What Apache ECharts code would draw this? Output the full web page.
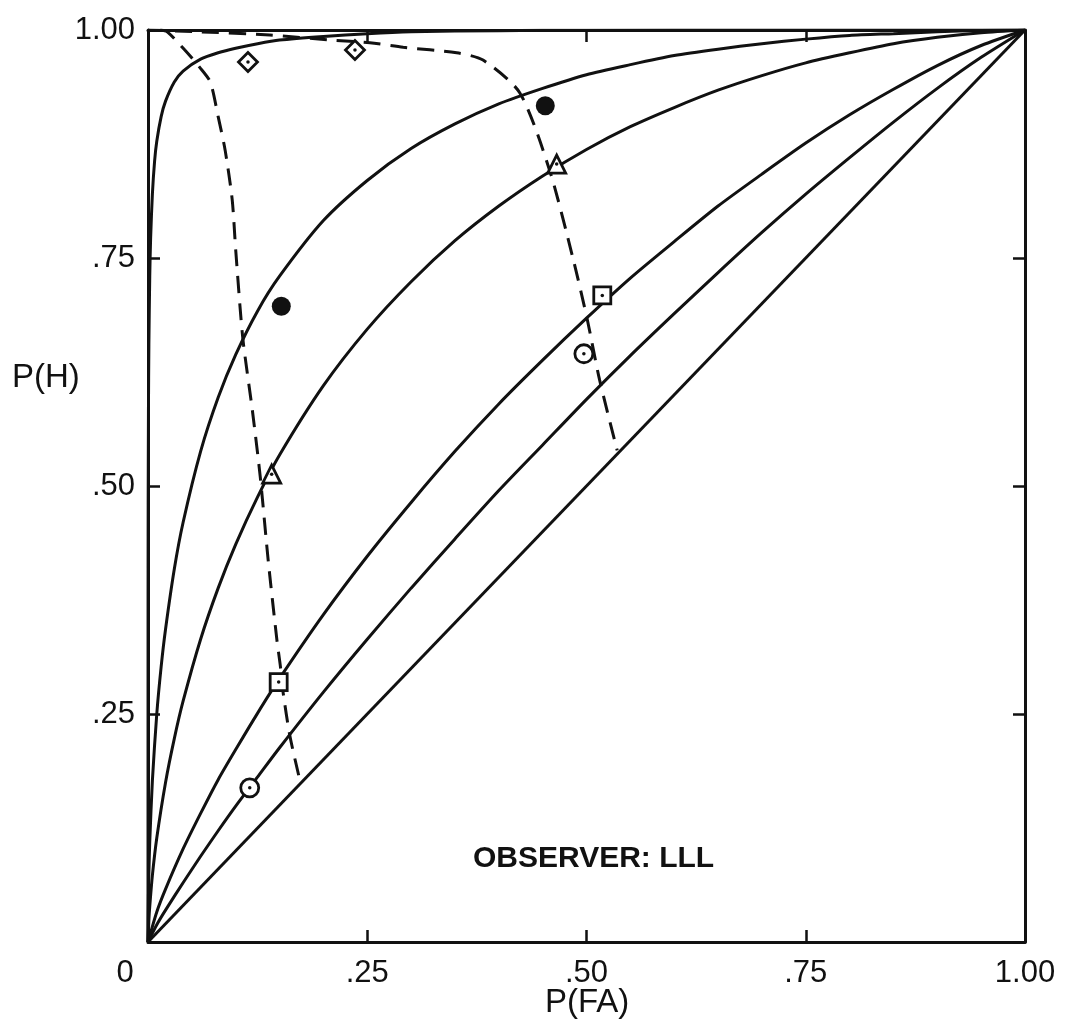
<!DOCTYPE html>
<html>
<head>
<meta charset="utf-8">
<script src="https://cdn.jsdelivr.net/npm/echarts@6/dist/echarts.min.js"></script>
<style>
  html, body { margin: 0; padding: 0; background: #fff; }
  #chart { width: 1066px; height: 1027px; }
</style>
</head>
<body>
<div id="chart"></div>
<script>
// Tick positions and their printed labels
const tickValues = [0, 0.25, 0.5, 0.75, 1];
const xTickLabels = ['0', '.25', '.50', '.75', '1.00'];
const yTickLabels = ['', '.25', '.50', '.75', '1.00'];

// Solid ROC curves, [P(FA), P(H)]
const chanceLine = [[0, 0], [1, 1]];
const rocA = [[0, 0], [0.01, 0.019], [0.02, 0.035], [0.04, 0.065], [0.06, 0.094], [0.08, 0.122],
  [0.10, 0.149], [0.125, 0.181], [0.15, 0.213], [0.20, 0.274], [0.25, 0.332], [0.30, 0.388],
  [0.35, 0.442], [0.40, 0.495], [0.45, 0.545], [0.50, 0.595], [0.55, 0.643], [0.60, 0.689],
  [0.65, 0.734], [0.70, 0.778], [0.75, 0.820], [0.80, 0.860], [0.85, 0.899], [0.90, 0.936],
  [0.95, 0.970], [1, 1]];
const rocB = [[0, 0], [0.01, 0.033], [0.02, 0.058], [0.04, 0.102], [0.06, 0.141], [0.08, 0.178],
  [0.10, 0.211], [0.125, 0.251], [0.15, 0.289], [0.20, 0.359], [0.25, 0.423], [0.30, 0.482],
  [0.35, 0.538], [0.40, 0.590], [0.45, 0.638], [0.50, 0.684], [0.55, 0.728], [0.60, 0.768],
  [0.65, 0.807], [0.70, 0.842], [0.75, 0.876], [0.80, 0.907], [0.85, 0.935], [0.90, 0.961],
  [0.95, 0.983], [1, 1]];
const rocC = [[0, 0], [0.001, 0.024], [0.002, 0.039], [0.005, 0.073], [0.01, 0.114], [0.02, 0.175],
  [0.03, 0.223], [0.04, 0.264], [0.06, 0.332], [0.08, 0.388], [0.10, 0.436], [0.125, 0.488],
  [0.15, 0.534], [0.20, 0.610], [0.25, 0.672], [0.30, 0.724], [0.35, 0.769], [0.40, 0.807],
  [0.45, 0.840], [0.50, 0.869], [0.55, 0.894], [0.60, 0.915], [0.65, 0.934], [0.70, 0.950],
  [0.75, 0.964], [0.80, 0.975], [0.85, 0.985], [0.90, 0.992], [0.95, 0.997], [1, 1]];
const rocD = [[0, 0], [0.0005, 0.051], [0.001, 0.075], [0.002, 0.110], [0.005, 0.177], [0.01, 0.250],
  [0.015, 0.302], [0.02, 0.343], [0.03, 0.409], [0.04, 0.460], [0.06, 0.538], [0.08, 0.597],
  [0.10, 0.644], [0.125, 0.692], [0.15, 0.730], [0.20, 0.791], [0.25, 0.835], [0.30, 0.870],
  [0.35, 0.897], [0.40, 0.919], [0.45, 0.936], [0.50, 0.951], [0.55, 0.962], [0.60, 0.972],
  [0.65, 0.979], [0.70, 0.985], [0.75, 0.990], [0.80, 0.994], [0.85, 0.996], [0.90, 0.998],
  [0.95, 0.9995], [1, 1]];
const rocE = [[0, 0], [0.00005, 0.35], [0.0001, 0.41], [0.0002, 0.48], [0.0005, 0.58], [0.001, 0.655],
  [0.002, 0.73], [0.003, 0.772], [0.005, 0.82], [0.0075, 0.856], [0.01, 0.878], [0.015, 0.905],
  [0.02, 0.922], [0.03, 0.943], [0.04, 0.955], [0.06, 0.968], [0.08, 0.975], [0.10, 0.980],
  [0.125, 0.985], [0.15, 0.989], [0.20, 0.993], [0.25, 0.996], [0.30, 0.998], [0.40, 0.9993],
  [0.50, 0.9998], [0.70, 1.0], [1, 1]];

// Dashed iso-criterion curves
const dashLeft = [[0.014, 1.0], [0.022, 0.998], [0.042, 0.978], [0.059, 0.959], [0.071, 0.943],
  [0.080, 0.905], [0.088, 0.868], [0.096, 0.814], [0.100, 0.759], [0.108, 0.663], [0.119, 0.583],
  [0.128, 0.510], [0.137, 0.419], [0.147, 0.331], [0.151, 0.302], [0.154, 0.274], [0.162, 0.225],
  [0.173, 0.178]];
const dashRight = [[0, 1.0], [0.059, 0.998], [0.139, 0.9945], [0.2075, 0.989], [0.253, 0.986],
  [0.291, 0.981], [0.352, 0.975], [0.382, 0.967], [0.424, 0.931], [0.458, 0.846], [0.485, 0.748],
  [0.501, 0.682], [0.515, 0.616], [0.535, 0.539]];

// Observed operating points
const diamondPts = [[0.114, 0.965], [0.236, 0.978]];
const filledPts = [[0.152, 0.697], [0.453, 0.917]];
const trianglePts = [[0.141, 0.513], [0.466, 0.853]];
const squarePts = [[0.149, 0.285], [0.518, 0.709]];
const circlePts = [[0.116, 0.169], [0.497, 0.645]];

const FONT = 'Liberation Sans';
const INK = '#111';

function solid(data) {
  return {
    type: 'line', data, showSymbol: false, smooth: 0.25,
    lineStyle: { color: INK, width: 3 }, z: 2, silent: true
  };
}
function dashed(data) {
  return {
    type: 'line', data, showSymbol: false, smooth: 0.25,
    lineStyle: { color: INK, width: 3, type: [17, 10] }, z: 3, silent: true
  };
}
function openMarker(data, symbol, size) {
  return {
    type: 'scatter', data, symbol, symbolSize: size, z: 5, silent: true,
    itemStyle: { color: '#fff', borderColor: INK, borderWidth: 2.8, opacity: 1 }
  };
}
function centerDot(data) {
  return {
    type: 'scatter', data, symbol: 'circle', symbolSize: 3.5, z: 6, silent: true,
    itemStyle: { color: INK, opacity: 1 }
  };
}

const tickIndex = v => tickValues.findIndex(t => Math.abs(t - v) < 1e-9);

const baseAxis = {
  type: 'value', min: 0, max: 1, interval: 0.25,
  splitLine: { show: false },
  axisLine: { show: true, onZero: false, lineStyle: { color: INK, width: 3 } },
  axisTick: { show: true, inside: true, length: 12, lineStyle: { color: INK, width: 2.5 } }
};

const chart = echarts.init(document.getElementById('chart'), null, { renderer: 'canvas' });
chart.setOption({
  backgroundColor: '#fff',
  animation: false,
  grid: { left: 148, top: 30, right: 41, bottom: 85 },
  xAxis: [
    Object.assign({}, baseAxis, {
      position: 'bottom',
      axisLabel: {
        show: true, margin: 16, color: INK, fontFamily: FONT, fontSize: 31,
        formatter: v => {
          const i = tickIndex(v);
          if (i === 0) return '{z|' + xTickLabels[0] + '}';
          return i >= 0 ? xTickLabels[i] : '';
        },
        rich: { z: { fontFamily: FONT, fontSize: 31, color: INK, padding: [0, 46, 0, 0] } }
      }
    }),
    Object.assign({}, baseAxis, { position: 'top', axisLabel: { show: false } })
  ],
  yAxis: [
    Object.assign({}, baseAxis, {
      position: 'left',
      axisLabel: {
        show: true, margin: 13, color: INK, fontFamily: FONT, fontSize: 31,
        formatter: v => { const i = tickIndex(v); return i >= 0 ? yTickLabels[i] : ''; }
      }
    }),
    Object.assign({}, baseAxis, { position: 'right', axisLabel: { show: false } })
  ],
  series: [
    solid(chanceLine), solid(rocA), solid(rocB), solid(rocC), solid(rocD), solid(rocE),
    dashed(dashLeft), dashed(dashRight),
    openMarker(diamondPts, 'diamond', 19),
    centerDot(diamondPts),
    {
      type: 'scatter', data: filledPts, symbol: 'circle', symbolSize: 19, z: 5, silent: true,
      itemStyle: { color: INK, opacity: 1 }
    },
    openMarker(trianglePts, 'triangle', 18),
    centerDot(trianglePts),
    openMarker(squarePts, 'rect', 17),
    centerDot(squarePts),
    openMarker(circlePts, 'circle', 18),
    centerDot(circlePts)
  ],
  graphic: [
    {
      type: 'text', left: 12, top: 361,
      style: { text: 'P(H)', font: '33px "' + FONT + '"', fill: INK }
    },
    {
      type: 'text', left: 545, top: 986,
      style: { text: 'P(FA)', font: '33px "' + FONT + '"', fill: INK }
    },
    {
      type: 'text', left: 473, top: 844,
      style: { text: 'OBSERVER: LLL', font: 'bold 30px "' + FONT + '"', fill: INK }
    }
  ]
});
</script>
</body>
</html>
